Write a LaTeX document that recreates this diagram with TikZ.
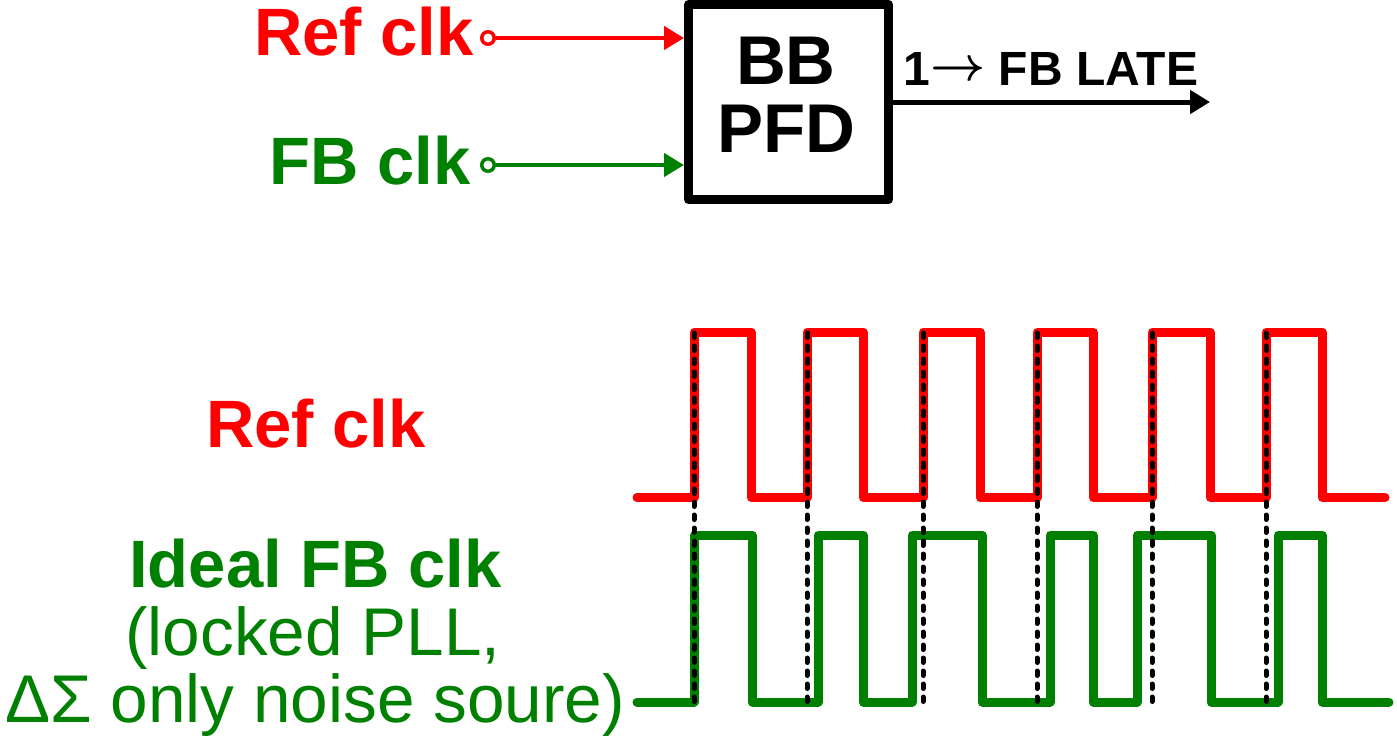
\documentclass[tikz,border=0pt]{standalone}
\usepackage{fontspec}
\setmainfont{Liberation Sans}
\usetikzlibrary{arrows.meta}
\definecolor{sigred}{RGB}{255,0,0}
\definecolor{siggreen}{RGB}{0,128,0}
\begin{document}
\begin{tikzpicture}[x=1pt,y=-1pt,
  big/.style={font=\fontsize{67}{68}\selectfont\bfseries, inner sep=0pt},
  bigreg/.style={font=\fontsize{67.5}{68}\selectfont, inner sep=0pt},
  pinnode/.style={circle, draw, fill=white, line width=3.5pt, minimum size=12.5pt, inner sep=0pt},
  inarrow/.style={line width=4.5pt, -{Triangle[length=20pt,width=23pt]}},
  outarrow/.style={line width=5pt, -{Triangle[length=20pt,width=23pt]}},
  pfdbox/.style={draw, line width=9pt, line join=round, minimum width=200pt, minimum height=195pt, inner sep=0pt},
  wave/.style={line width=9pt, line join=round, line cap=round},
  guide/.style={line width=5pt, line cap=round, dash pattern=on 4.5pt off 8.5pt},
]
\useasboundingbox (0,0) rectangle (1397,739);

% PFD block
\node[pfdbox] (pfd) at (788.5,102) {};
\node[big, font=\fontsize{69}{68}\selectfont\bfseries, anchor=base] (bbtxt) at (786,84) {BB};
\node[big, font=\fontsize{69}{68}\selectfont\bfseries, anchor=base] (pfdtxt) at (786,152) {PFD};

% inputs
\node[pinnode, draw=sigred] (refpin) at (488,38) {};
\node[pinnode, draw=siggreen] (fbpin) at (488,165) {};
\node[big, text=sigred, anchor=base east] (reflbl) at (474,55) {Ref clk};
\node[big, text=siggreen, anchor=base east] (fblbl) at (471,184) {FB clk};
\draw[inarrow, sigred] (refpin) -- (refpin -| pfd.west);
\draw[inarrow, siggreen] (fbpin) -- (fbpin -| pfd.west);

% output
\coordinate (outend) at (1210,102);
\draw[outarrow] (pfd.east) -- (outend);
\node[font=\fontsize{48}{50}\selectfont\bfseries, anchor=base west, inner sep=0pt] (outlbl) at (903.5,85)
  {1\raisebox{5pt}{\scalebox{4.8}{\fontsize{10}{12}\selectfont\boldmath$\rightarrow$}}\ FB LATE};

% waveform labels
\node[big, text=sigred, anchor=base] (wref) at (316,447.5) {Ref clk};
\node[big, text=siggreen, anchor=base] (wfb) at (315.5,587) {Ideal FB clk};
\node[bigreg, text=siggreen, anchor=base] (wfb2) at (313,655.5) {(locked PLL,};
\node[bigreg, text=siggreen, anchor=base] (wfb3) at (315,722) {ΔΣ only noise soure)};

% waveforms
\draw[wave, sigred] (637,497.5) -- (694,497.5) -- (694,332) -- (751,332) -- (751,497.5)
  -- (807,497.5) -- (807,332) -- (863,332) -- (863,497.5)
  -- (923,497.5) -- (923,332) -- (980,332) -- (980,497.5)
  -- (1037,497.5) -- (1037,332) -- (1093,332) -- (1093,497.5)
  -- (1152,497.5) -- (1152,332) -- (1210,332) -- (1210,497.5)
  -- (1266,497.5) -- (1266,332) -- (1322,332) -- (1322,497.5) -- (1385,497.5);
\draw[wave, siggreen] (637,702) -- (694,702) -- (694,535) -- (752,535) -- (752,702)
  -- (818,702) -- (818,535) -- (863,535) -- (863,702)
  -- (912,702) -- (912,535) -- (982,535) -- (982,702)
  -- (1050,702) -- (1050,535) -- (1093,535) -- (1093,702)
  -- (1137,702) -- (1137,535) -- (1211,535) -- (1211,702)
  -- (1278,702) -- (1278,535) -- (1322,535) -- (1322,702) -- (1389,702);

% alignment guides
\foreach \gx in {694,807,923,1037,1152,1266}
  \draw[guide] (\gx,333) -- (\gx,705);
\end{tikzpicture}
\end{document}
